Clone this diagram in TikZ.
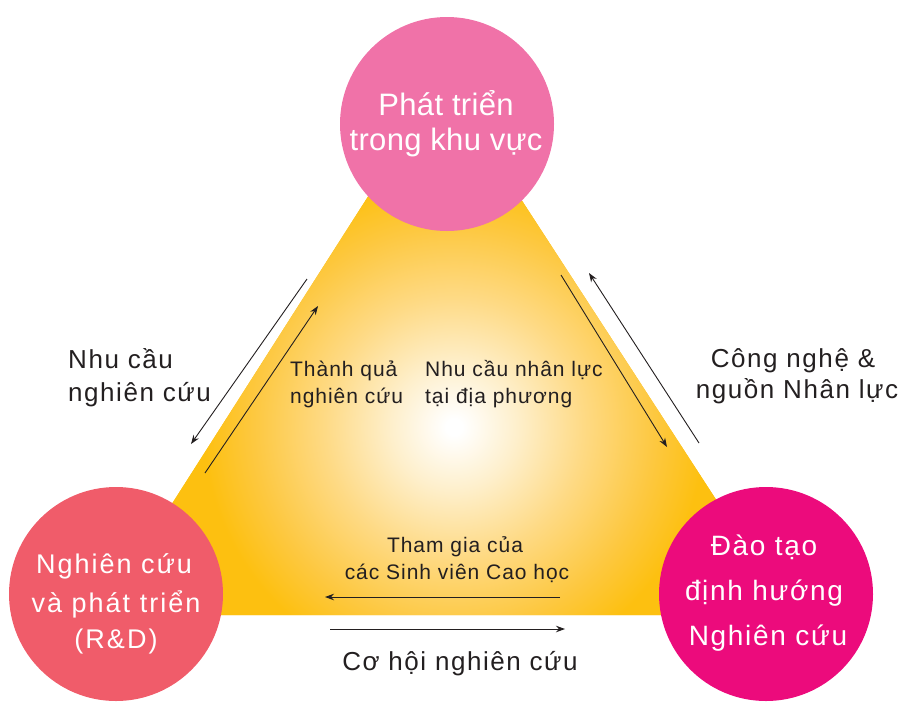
\documentclass[tikz,border=0pt]{standalone}
\usepackage{fontspec}
\setmainfont{Liberation Sans}
\newfontfamily\fside[LetterSpace=6]{Liberation Sans}
\newfontfamily\finner[LetterSpace=4.6]{Liberation Sans}
\newfontfamily\fcirc[LetterSpace=7.5]{Liberation Sans}
\newfontfamily\fcircb[LetterSpace=6]{Liberation Sans}
\newfontfamily\ftop[LetterSpace=1]{Liberation Sans}
\usetikzlibrary{arrows.meta}
\definecolor{triY}{HTML}{FDC010}
\definecolor{glowB}{HTML}{FEEFCB}
\definecolor{glowC}{HTML}{FEDA85}
\definecolor{glowD}{HTML}{FDC840}
\definecolor{cTop}{HTML}{F072A8}
\definecolor{cBL}{HTML}{F05C6A}
\definecolor{cBR}{HTML}{EC0B7C}
\definecolor{txt}{HTML}{231F20}
\pgfdeclareradialshading{glow}{\pgfpoint{0bp}{0bp}}{color(0bp)=(white); color(0.6bp)=(white); color(4.8bp)=(glowB); color(9.8bp)=(glowC); color(15.2bp)=(glowD); color(19bp)=(triY); color(70bp)=(triY)}
\tikzset{
  circ/.style={circle, minimum size=214pt, inner sep=0pt},
  arr/.style={-{Stealth[length=9pt,width=6.5pt]}, line width=0.9pt, draw=txt},
  toptxt/.style={anchor=base, text=white, font=\ftop\fontsize{31}{37}\selectfont},
  bltxt/.style={anchor=base, text=white, font=\fcirc\fontsize{27}{33}\selectfont},
  brtxt/.style={anchor=base, text=white, font=\fcircb\fontsize{28}{34}\selectfont},
  sidetxt/.style={text=txt, font=\fside\fontsize{26}{31}\selectfont},
  innertxt/.style={text=txt, font=\finner\fontsize{21}{26}\selectfont},
}
\begin{document}
\begin{tikzpicture}[x=1pt,y=-1pt]
\useasboundingbox (0,0) rectangle (899,702);
% triangle
\coordinate (A) at (443,79);
\coordinate (B) at (101,615);
\coordinate (C) at (791,615);
\fill[triY] (A) -- (B) -- (C) -- cycle;
\begin{scope}
  \clip (A) -- (B) -- (C) -- cycle;
  \shade[shading=glow] (454,427) circle (330pt);
\end{scope}
% circles
\node[circ, fill=cTop] (top) at (447,124) {};
\node[circ, fill=cBL] (bl) at (116,594) {};
\node[circ, fill=cBR] (br) at (766,594) {};
% circle texts
\node[toptxt] (t1) at (446,115) {Phát triển};
\node[toptxt] (t2) at (446,150) {trong khu vực};
\node[bltxt] (l1) at (114,573) {Nghiên cứu};
\node[bltxt] (l2) at (116,612) {và phát triển};
\node[bltxt] (l3) at (116,648) {(R\&D)};
\node[brtxt] (r1) at (764,555) {Đào tạo};
\node[brtxt] (r2) at (764,600) {định hướng};
\node[brtxt] (r3) at (768,645) {Nghiên cứu};
% side labels
\node[sidetxt, anchor=base west, inner sep=0pt] (sl1) at (68,368) {Nhu cầu};
\node[sidetxt, anchor=base west, inner sep=0pt] (sl2) at (68,401) {nghiên cứu};
\node[sidetxt, anchor=base, inner sep=0pt] (sr1) at (793,367) {Công nghệ \&};
\node[sidetxt, anchor=base, inner sep=0pt] (sr2) at (797,398) {nguồn Nhân lực};
\node[sidetxt, anchor=base, inner sep=0pt] (sb) at (460,670) {Cơ hội nghiên cứu};
% inner labels
\node[innertxt, anchor=base west, inner sep=0pt] (i1) at (290,376) {Thành quả};
\node[innertxt, anchor=base west, inner sep=0pt] (i2) at (290,403) {nghiên cứu};
\node[innertxt, anchor=base west, inner sep=0pt] (i3) at (425,376) {Nhu cầu nhân lực};
\node[innertxt, anchor=base west, inner sep=0pt] (i4) at (425,403) {tại địa phương};
\node[innertxt, anchor=base, inner sep=0pt] (i5) at (455,552) {Tham gia của};
\node[innertxt, anchor=base, inner sep=0pt] (i6) at (457,579) {các Sinh viên Cao học};
% arrows
\coordinate (lo1) at (307,279); \coordinate (lo2) at (191,444);
\coordinate (li1) at (205,473); \coordinate (li2) at (318,306);
\coordinate (ri1) at (561,275); \coordinate (ri2) at (667,447);
\coordinate (ro1) at (699,443); \coordinate (ro2) at (589,273);
\coordinate (bi1) at (560,597); \coordinate (bi2) at (325,597);
\coordinate (bo1) at (330,629); \coordinate (bo2) at (565,629);
\draw[arr] (lo1) -- (lo2);
\draw[arr] (li1) -- (li2);
\draw[arr] (ri1) -- (ri2);
\draw[arr] (ro1) -- (ro2);
\draw[arr] (bi1) -- (bi2);
\draw[arr] (bo1) -- (bo2);
\end{tikzpicture}
\end{document}
